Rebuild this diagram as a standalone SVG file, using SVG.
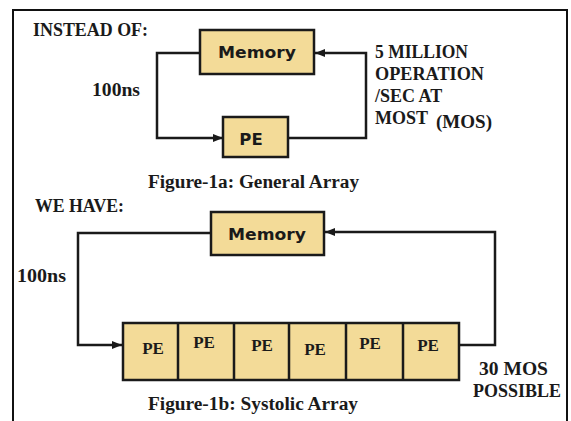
<svg xmlns="http://www.w3.org/2000/svg" width="571" height="421" viewBox="0 0 571 421">
<defs>
<marker id="ah" viewBox="0 0 10 8" refX="10" refY="4" markerWidth="10" markerHeight="8" markerUnits="userSpaceOnUse" orient="auto">
<path d="M0,0 L10,4 L0,8 z" fill="#1a1a1a"/>
</marker>
</defs>
<style>
.box{fill:#F3DB98;stroke:#1a1a1a;stroke-width:2.5}
.ln{fill:none;stroke:#1a1a1a;stroke-width:2.5}
.t{font-family:"Liberation Serif","Times New Roman",serif;font-weight:bold;fill:#1a1a1a}
.s{font-family:"DejaVu Sans",Verdana,sans-serif;font-weight:bold;fill:#1a1a1a}
</style>
<rect width="571" height="421" fill="#ffffff"/>
<path d="M13,421 V10 H567 V421" fill="none" stroke="#111" stroke-width="2"/>

<text class="t" x="33" y="36" font-size="19" textLength="115" lengthAdjust="spacingAndGlyphs">INSTEAD OF:</text>
<text class="t" x="92" y="96" font-size="19" textLength="48" lengthAdjust="spacingAndGlyphs">100ns</text>
<text class="t" x="375" y="58" font-size="18" textLength="93" lengthAdjust="spacingAndGlyphs">5 MILLION</text>
<text class="t" x="375" y="80" font-size="18" textLength="109" lengthAdjust="spacingAndGlyphs">OPERATION</text>
<text class="t" x="375" y="102" font-size="18">/SEC AT</text>
<text class="t" x="375" y="124" font-size="18">MOST</text>
<text class="t" x="436" y="128" font-size="18" textLength="56" lengthAdjust="spacingAndGlyphs">(MOS)</text>
<text class="t" x="148" y="188" font-size="18" textLength="211" lengthAdjust="spacingAndGlyphs">Figure-1a: General Array</text>

<text class="t" x="35" y="212" font-size="18" textLength="89" lengthAdjust="spacingAndGlyphs">WE HAVE:</text>
<text class="t" x="17" y="282" font-size="19" textLength="49" lengthAdjust="spacingAndGlyphs">100ns</text>
<text class="t" x="479" y="375" font-size="18" textLength="69" lengthAdjust="spacingAndGlyphs">30 MOS</text>
<text class="t" x="473" y="397" font-size="18" textLength="88" lengthAdjust="spacingAndGlyphs">POSSIBLE</text>
<text class="t" x="148" y="410" font-size="18" textLength="210" lengthAdjust="spacingAndGlyphs">Figure-1b: Systolic Array</text>

<g id="connectors">
<path class="ln" d="M200,53 H157 V138 H223" marker-end="url(#ah)"/>
<path class="ln" d="M288,138 H366 V53 H315" marker-end="url(#ah)"/>
<path class="ln" d="M211,233 H78 V345 H122" marker-end="url(#ah)"/>
<path class="ln" d="M459,345 H495 V232 H325" marker-end="url(#ah)"/>
</g>

<g id="memory1">
<rect class="box" x="200" y="30" width="114" height="44"/>
<text class="s" x="257" y="58" font-size="16.5" text-anchor="middle" textLength="78" lengthAdjust="spacingAndGlyphs">Memory</text>
</g>
<g id="pe1">
<rect class="box" x="223" y="117" width="65" height="40"/>
<text class="s" x="251" y="145" font-size="16.5" text-anchor="middle">PE</text>
</g>

<g id="memory2">
<rect class="box" x="211" y="212" width="113" height="43"/>
<text class="s" x="267" y="240" font-size="16.5" text-anchor="middle" textLength="78" lengthAdjust="spacingAndGlyphs">Memory</text>
</g>

<g id="pe-array">
<rect class="box" x="123" y="323" width="336" height="57"/>
<path class="ln" d="M178,323 V380 M234,323 V380 M289,323 V380 M346,323 V380 M403,323 V380"/>
<text class="t" x="153" y="354" font-size="17" text-anchor="middle">PE</text>
<text class="t" x="204" y="348" font-size="17" text-anchor="middle">PE</text>
<text class="t" x="262" y="351" font-size="17" text-anchor="middle">PE</text>
<text class="t" x="315" y="355" font-size="17" text-anchor="middle">PE</text>
<text class="t" x="370" y="349" font-size="17" text-anchor="middle">PE</text>
<text class="t" x="428" y="351" font-size="17" text-anchor="middle">PE</text>
</g>
</svg>
